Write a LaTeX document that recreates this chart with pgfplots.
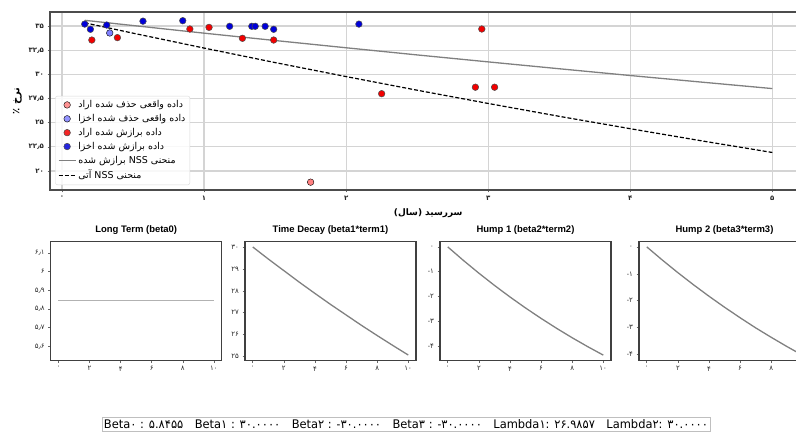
\documentclass[border=0pt]{standalone}
\usepackage{fontspec}
\setmainfont{Liberation Sans}
\newfontfamily\fa[Script=Arabic]{DejaVu Sans}
\TeXXeTstate=1
\newcommand\mn{\textrm{-}\kern0pt}
\usepackage{pgfplots}
\pgfplotsset{compat=1.18}
\begin{document}
\begin{tikzpicture}[x=1bp,y=1bp]
\pgfplotsset{
 panel/.style={scale only axis, width=171bp, height=119bp, anchor=south west,
   axis line style={draw=black!75, line width=1.1bp},
   tick align=outside, xtick pos=left, ytick pos=left, major tick length=2.5bp,
   tick style={draw=black!60, line width=0.6bp},
   tick label style={font=\fa\fontsize{7}{8}\selectfont, text=black!85},
   title style={font=\bfseries\fontsize{9.5}{11}\selectfont, yshift=-2.5bp},
   xmin=-0.5, xmax=10.5, xtick={0,2,4,6,8,10}, xticklabels={۰,۲,۴,۶,۸,۱۰},
 },
}
% ---------- main axis ----------
\begin{axis}[at={(50bp,242bp)}, anchor=south west, scale only axis,
  width=756.4bp, height=178bp,
  xmin=-0.0845, xmax=5.24, ymin=18.04, ymax=36.45,
  xtick={0,1,2,3,4,5}, xticklabels={۰,۱,۲,۳,۴,۵},
  ytick={20,22.5,25,27.5,30,32.5,35},
  yticklabels={۲۰,۲۲٫۵,۲۵,۲۷٫۵,۳۰,۳۲٫۵,۳۵},
  grid=major, major grid style={draw=black!17, line width=1.2bp},
  axis line style={draw=black!70, line width=1.1bp},
  tick align=outside, xtick pos=left, ytick pos=left, major tick length=2.5bp,
  tick style={draw=black!60, line width=0.6bp},
  tick label style={font=\fa\bfseries\fontsize{7}{8}\selectfont, text=black!85},
  xlabel={\fa\bfseries\fontsize{9}{11}\selectfont\beginR سررسید (سال)\endR},
  xlabel style={yshift=-1bp},
  ylabel={\fa\bfseries\fontsize{10}{12}\selectfont\beginR نرخ ٪\endR},
  legend style={at={(0.007,0.028)}, anchor=south west, draw=black!15,
    rounded corners=2bp, fill=white, fill opacity=0.85, text opacity=1,
    font=\fa\fontsize{9.5}{11}\selectfont, row sep=1.2bp, inner sep=2.5bp},
  legend cell align=left,
]
\addplot[only marks, mark=*, mark size=3.3bp, mark options={fill=red!50, draw=none}]
  coordinates {(1.75,18.85)};
\addlegendentry{\beginR داده واقعی حذف شده اراد\endR}
\addplot[only marks, mark=*, mark size=3.3bp, mark options={fill=blue!50, draw=none}]
  coordinates {(0.336,34.28)};
\addlegendentry{\beginR داده واقعی حذف شده اخزا\endR}
\addplot[only marks, mark=*, mark size=3.3bp, mark options={fill=red!95!black, draw=black!70, line width=0.5bp}]
  coordinates {(0.21,33.55) (0.39,33.8) (0.90,34.69) (1.035,34.86) (1.27,33.73)
   (1.49,33.55) (2.25,28.0) (2.91,28.67) (2.955,34.69) (3.045,28.67)};
\addlegendentry{\beginR داده برازش شده اراد\endR}
\addplot[only marks, mark=*, mark size=3.3bp, mark options={fill=blue!85!black, draw=black!70, line width=0.5bp}]
  coordinates {(0.16,35.2) (0.20,34.66) (0.315,35.1) (0.57,35.5) (0.85,35.55)
   (1.18,34.97) (1.336,34.97) (1.36,34.97) (1.43,34.97) (1.49,34.66) (2.09,35.2)};
\addlegendentry{\beginR داده برازش شده اخزا\endR}
\addplot[draw=black!50, line width=1.3bp, no marks]
  coordinates {(0.16,35.59) (0.5,35.05) (1,34.26) (1.5,33.50) (2,32.75) (2.5,32.01)
   (3,31.29) (3.5,30.58) (4,29.88) (4.5,29.20) (5,28.53)};
\addlegendentry{\beginR منحنی NSS برازش شده\endR}
\addplot[draw=black, line width=1.2bp, dash pattern=on 4bp off 2bp, no marks]
  coordinates {(0.16,35.33) (0.5,34.26) (1,32.72) (1.5,31.22) (2,29.77) (2.5,28.36)
   (3,26.99) (3.5,25.66) (4,24.38) (4.5,23.13) (5,21.92)};
\addlegendentry{\beginR منحنی NSS آتی\endR}
\end{axis}
% ---------- panel 1 ----------
\begin{axis}[panel, at={(50.7bp,71.5bp)}, title={Long Term (beta0)},
  ymin=5.524, ymax=6.162, ytick={5.6,5.7,5.8,5.9,6.0,6.1},
  yticklabels={۵٫۶,۵٫۷,۵٫۸,۵٫۹,۶,۶٫۱}]
\addplot[draw=black!30, line width=1.3bp, no marks] coordinates {(0,5.8455) (10,5.8455)};
\end{axis}
% ---------- panel 2 ----------
\begin{axis}[panel, at={(245bp,71.5bp)}, title={Time Decay (beta1*term1)},
  ymin=24.82, ymax=30.25, ytick={25,26,27,28,29,30},
  yticklabels={۲۵,۲۶,۲۷,۲۸,۲۹,۳۰}]
\addplot[draw=black!50, line width=1.3bp, no marks] coordinates {(0,30) (1,29.45) (2,28.92)
  (3,28.39) (4,27.88) (5,27.38) (6,26.90) (7,26.42) (8,25.96) (9,25.51) (10,25.07)};
\end{axis}
% ---------- panel 3 ----------
\begin{axis}[panel, at={(440bp,71.5bp)}, title={Hump 1 (beta2*term2)},
  ymin=-4.576, ymax=0.218, ytick={-4,-3,-2,-1,0},
  yticklabels={\mn۴,\mn۳,\mn۲,\mn۱,۰}]
\addplot[draw=black!50, line width=1.3bp, no marks] coordinates {(0,0) (1,-0.542) (2,-1.058)
  (3,-1.549) (4,-2.016) (5,-2.459) (6,-2.879) (7,-3.279) (8,-3.659) (9,-4.018) (10,-4.358)};
\end{axis}
% ---------- panel 4 ----------
\begin{axis}[panel, at={(639bp,71.5bp)}, title={Hump 2 (beta3*term3)},
  ymin=-4.217, ymax=0.2, ytick={-4,-3,-2,-1,0},
  yticklabels={\mn۴,\mn۳,\mn۲,\mn۱,۰}]
\addplot[draw=black!50, line width=1.3bp, no marks] coordinates {(0,0) (1,-0.489) (2,-0.957)
  (3,-1.404) (4,-1.831) (5,-2.239) (6,-2.629) (7,-3.004) (8,-3.355) (9,-3.694) (10,-4.016)};
\end{axis}
% ---------- parameter box ----------
\node[draw=black!25, line width=0.8bp, inner xsep=2bp, inner ysep=2.5bp, anchor=south]
  at (406bp,0.5bp) {\resizebox{604bp}{9bp}{\fa Beta۰ : ۵.۸۴۵۵\quad Beta۱ : ۳۰.۰۰۰۰\quad Beta۲ : \mn۳۰.۰۰۰۰\quad Beta۳ : \mn۳۰.۰۰۰۰\quad Lambda۱: ۲۶.۹۸۵۷\quad Lambda۲: ۳۰.۰۰۰۰}};
\pgfresetboundingbox
\path[use as bounding box] (0,0) rectangle (796,432);
\end{tikzpicture}
\end{document}
